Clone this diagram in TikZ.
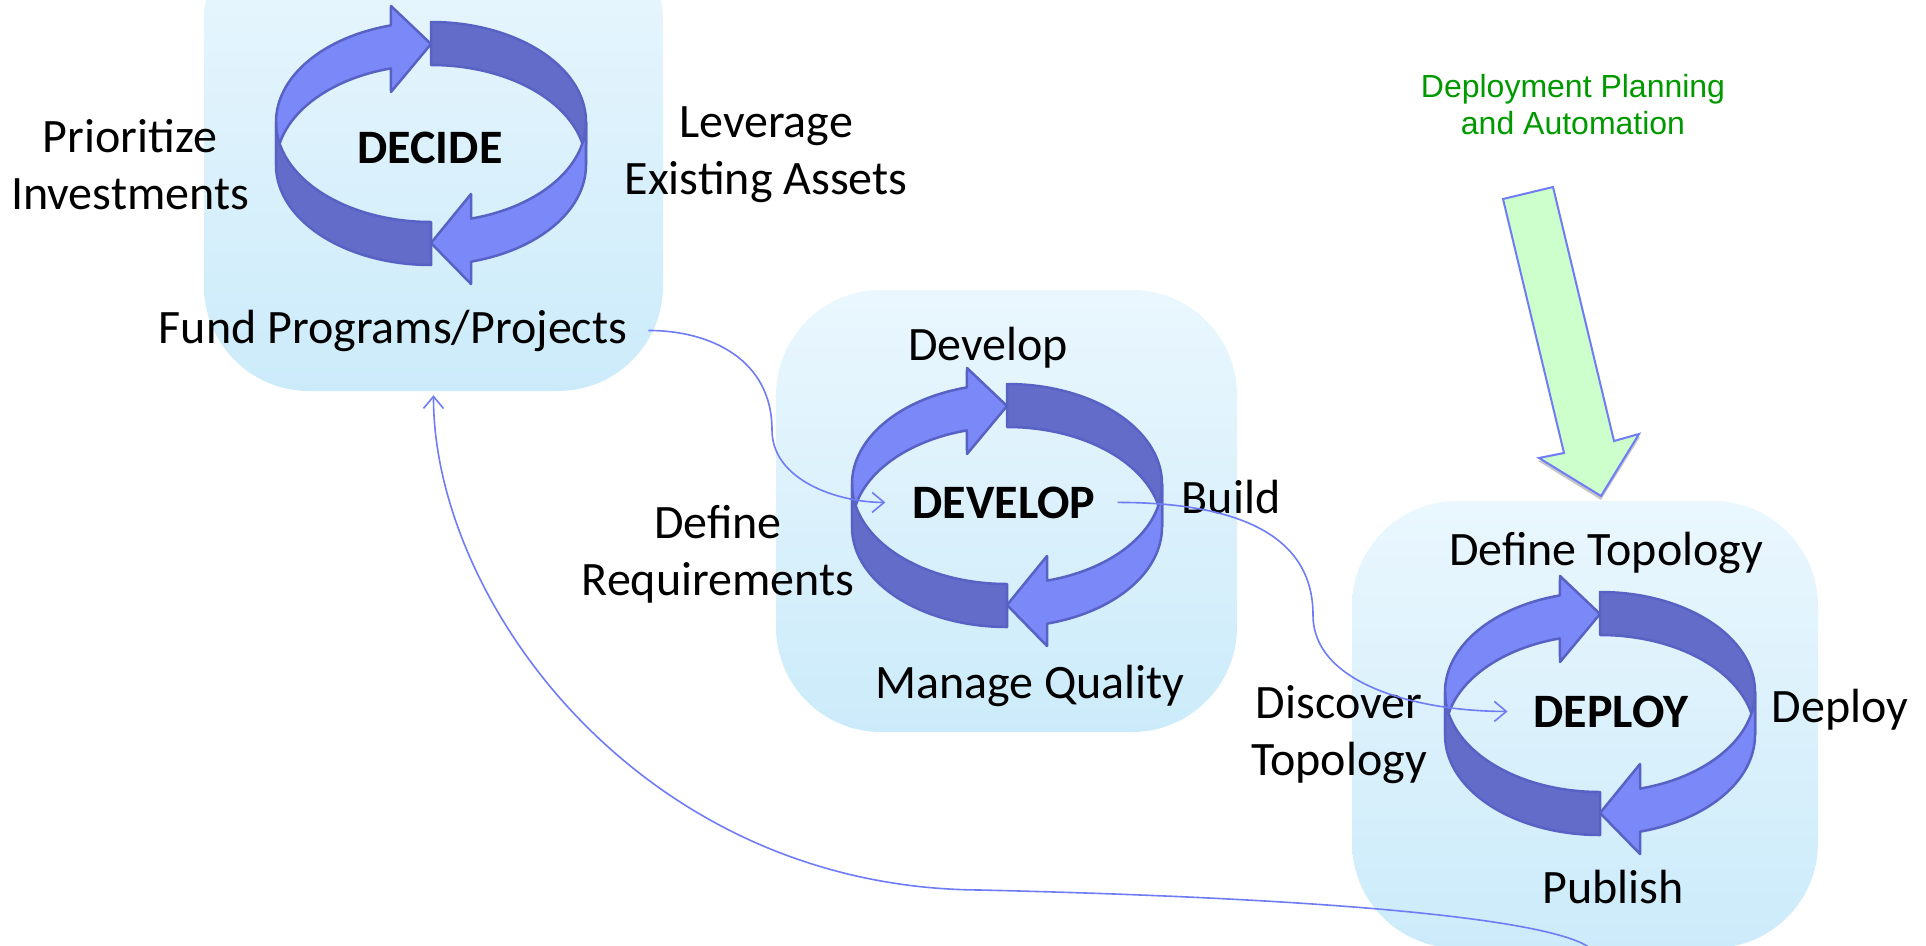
\documentclass[tikz,border=0pt]{standalone}
\usepackage{fontspec}
\setmainfont{Carlito}
\newfontfamily\notefont{Liberation Sans}
\usetikzlibrary{arrows.meta}

\definecolor{bandlight}{RGB}{123,136,248}
\definecolor{banddark}{RGB}{99,108,200}
\definecolor{bandline}{RGB}{88,98,196}
\definecolor{linkblue}{RGB}{111,124,246}
\definecolor{boxtop}{RGB}{234,247,254}
\definecolor{boxbottom}{RGB}{204,235,250}
\definecolor{notegreen}{RGB}{0,153,0}
\definecolor{notefill}{RGB}{204,255,204}

\tikzset{
  lightband/.style={fill=bandlight, draw=bandline, line width=2.5pt, line join=round},
  darkband/.style={fill=banddark, draw=bandline, line width=2.5pt, line join=round},
  % origin = centre of the upper rim
  cycle ring/.pic={
    \draw[lightband] (-155,0) arc[start angle=180, end angle=105, x radius=155pt, y radius=100pt]
      -- (-40,116) -- (0,78) -- (-40,30) -- (-40.1,53.6)
      arc[start angle=105, end angle=180, x radius=155pt, y radius=100pt] -- cycle;
    \draw[darkband] (0,100) arc[start angle=90, end angle=0, x radius=155pt, y radius=100pt]
      -- (155,-43) arc[start angle=0, end angle=90, x radius=155pt, y radius=100pt] -- cycle;
    \draw[darkband] (-155,0) arc[start angle=180, end angle=270, x radius=155pt, y radius=100pt]
      -- (0,-143) arc[start angle=270, end angle=180, x radius=155pt, y radius=100pt] -- cycle;
    \draw[lightband] (155,0) arc[start angle=0, end angle=-75, x radius=155pt, y radius=100pt]
      -- (40,-72) -- (0,-121) -- (40,-162) -- (40.1,-139.6)
      arc[start angle=-75, end angle=0, x radius=155pt, y radius=100pt] -- cycle;
  }
}

\begin{document}
\begin{tikzpicture}[x=1pt, y=1pt,
    stagebox/.style={rounded corners=105pt, top color=boxtop, bottom color=boxbottom},
    steplabel/.style={font=\fontsize{48}{57}\selectfont, align=center, anchor=base},
    stagetitle/.style={font=\fontsize{48}{57}\selectfont\bfseries, anchor=base},
    plannote/.style={font=\notefont\fontsize{32}{37}\selectfont, text=notegreen, align=center, anchor=base},
    link/.style={draw=linkblue, line width=1.6pt, -{Straight Barb[length=12pt,width=20pt]}},
    planarrow/.style={fill=notefill, draw=linkblue, line width=2pt}]
    \tikzstyle{every node}+=[inner sep=0pt]
    \useasboundingbox (0,0) rectangle (1926,-945);

    % stage boxes
    \node [stagebox, minimum width=459pt, minimum height=476pt] (decbox) at (433.5,-153) {};
    \node [stagebox, minimum width=461pt, minimum height=442pt] (devbox) at (1006.5,-511) {};
    \node [stagebox, minimum width=466pt, minimum height=447pt] (depbox) at (1585,-724.5) {};

    % planning arrow
    \fill [gray!45] (1504,-201) -- (1554,-189) -- (1615,-443) -- (1640,-437) -- (1601,-500) -- (1538,-461) -- (1565,-456) -- cycle;
    \draw [planarrow] (1503,-199) -- (1553,-187) -- (1614,-441) -- (1639,-434) -- (1601,-496) -- (1539,-458) -- (1564,-453) -- cycle;
    \node [plannote] (plan) at (1573,-134) {Deployment Planning\\and Automation};

    % rings
    \pic at (431,-122) {cycle ring};
    \pic at (1007,-484) {cycle ring};
    \pic at (1600,-692) {cycle ring};

    % DECIDE
    \node [stagetitle] (dectitle) at (430,-163) {DECIDE};
    \node [steplabel] (prio) at (130,-209) {Prioritize\\Investments};
    \node [steplabel] (lever) at (766,-194) {Leverage\\Existing Assets};
    \node [steplabel] (fund) at (393,-343) {Fund Programs/Projects};

    % DEVELOP
    \node [stagetitle] (devtitle) at (1004,-518) {DEVELOP};
    \node [steplabel] (develop) at (988,-360) {Develop};
    \node [steplabel] (build) at (1231,-513) {Build};
    \node [steplabel] (definereq) at (718,-595) {Define\\Requirements};
    \node [steplabel] (quality) at (1030,-698) {Manage Quality};

    % DEPLOY
    \node [stagetitle] (deptitle) at (1611,-727) {DEPLOY};
    \node [steplabel] (deftopo) at (1606,-565) {Define Topology};
    \node [steplabel] (deploy) at (1840,-722) {Deploy};
    \node [steplabel] (discover) at (1339,-775) {Discover\\Topology};
    \node [steplabel] (publish) at (1613,-903) {Publish};

    % connectors
    \coordinate (devin) at ([xshift=-27pt]devtitle.west);
    \coordinate (depin) at ([xshift=-26pt]deptitle.west);
    \coordinate (pubtail) at (1590,-948);
    \draw [link] ([xshift=21pt]fund.east) .. controls +(63,0) and +(0,70) .. (772,-430)
        .. controls +(0,-50) and +(-48,0) .. (devin);
    \draw [link] ([xshift=22pt]devtitle.east) .. controls +(120,0) and +(0,80) .. (1313,-615)
        .. controls +(0,-70) and +(-88,0) .. (depin);
    \draw [link] (pubtail) .. controls (1560,-925) and (1400,-900) .. (980,-890)
        .. controls (640,-888) and (433,-600) .. ([yshift=-4pt]decbox.south);
\end{tikzpicture}
\end{document}
